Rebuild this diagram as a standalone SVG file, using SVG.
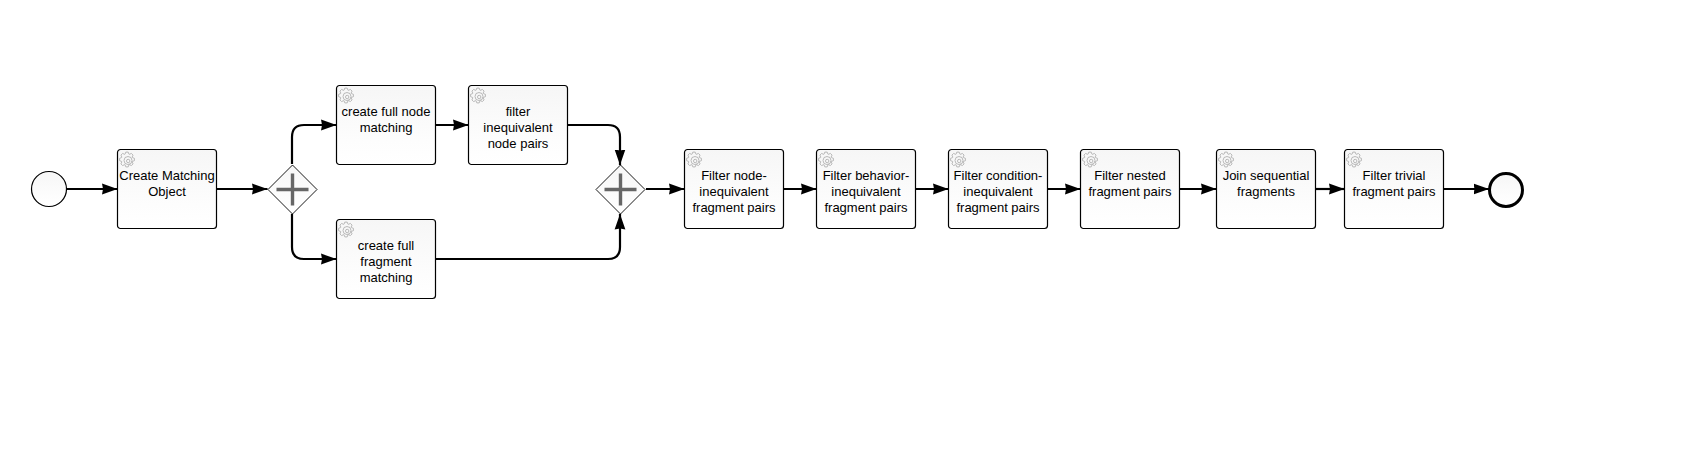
<svg xmlns="http://www.w3.org/2000/svg" width="1697" height="455" viewBox="0 0 1697 455">
<style>
.task{fill:url(#g);stroke:#000;stroke-width:1.2}
.ev{fill:url(#g);stroke:#000;stroke-width:1.2}
.end{fill:url(#g);stroke:#000;stroke-width:3}
.gw{fill:url(#g);stroke:#000;stroke-width:.9}
.plus{fill:none;stroke:#666;stroke-width:3.4}
.flow{fill:none;stroke:#000;stroke-width:2.2;marker-end:url(#arrow)}
text{font-family:"Liberation Sans",Arial,sans-serif;font-size:13px;text-anchor:middle;fill:#000}
.gear{fill:none;stroke:#aaa;stroke-width:.8}
</style>
<defs>
<linearGradient id="g" x1="0" y1="0" x2="0" y2="1"><stop offset="0" stop-color="#f6f6f6"/><stop offset=".7" stop-color="#fdfdfd"/><stop offset="1" stop-color="#fff"/></linearGradient>
<marker id="arrow" markerUnits="userSpaceOnUse" markerWidth="17" markerHeight="14" refX="15.5" refY="7" orient="auto"><path d="M0 1.6L15.5 7L0 12.4L1 7Z" fill="#000"/></marker>
<g id="cog"><path class="gear" d="M5.36-1.95L7.41-1.17V1.17L5.36 1.95L5.17 2.41L6.07 4.41L4.41 6.07L2.41 5.17L1.95 5.36L1.17 7.41H-1.17L-1.95 5.36L-2.41 5.17L-4.41 6.07L-6.07 4.41L-5.17 2.41L-5.36 1.95L-7.41 1.17V-1.17L-5.36-1.95L-5.17-2.41L-6.07-4.41L-4.41-6.07L-2.41-5.17L-1.95-5.36L-1.17-7.41H1.17L1.95-5.36L2.41-5.17L4.41-6.07L6.07-4.41L5.17-2.41Z"/><circle class="gear" cx="1" cy="1" r="4"/><circle class="gear" cx="1.2" cy="1.5" r="1.7"/></g>
<g id="t"><rect class="task" width="99" height="79" rx="3"/><use href="#cog" x="9.5" y="10"/></g>
</defs>
<g id="connectors">
<path class="flow" d="M67 189H117.5"/>
<path class="flow" d="M216.5 189H267.5"/>
<path class="flow" d="M292 164V137Q292 125 304 125H336.5"/>
<path class="flow" d="M292 214V247Q292 259 304 259H336.5"/>
<path class="flow" d="M435.5 125H468.5"/>
<path class="flow" d="M567.5 125H608Q620 125 620 137V165"/>
<path class="flow" d="M435.5 259H608Q620 259 620 247V214"/>
<path class="flow" d="M646 189H684.5"/>
<path class="flow" d="M783.5 189H816.5"/>
<path class="flow" d="M915.5 189H948.5"/>
<path class="flow" d="M1047.5 189H1080.5"/>
<path class="flow" d="M1179.5 189H1216.5"/>
<path class="flow" d="M1315.5 189H1344.5"/>
<path class="flow" d="M1443.5 189H1489"/>
</g>
<g id="start"><circle class="ev" cx="49" cy="189" r="17.5"/></g>
<g id="task-create-matching"><use href="#t" x="117.5" y="149.5"/><text x="167" y="180">Create Matching</text><text x="167" y="196">Object</text></g>
<g id="gateway-split"><path class="gw" d="M292.5 165L317 189.5L292.5 214L268 189.5Z"/><path class="plus" d="M292.5 173.5V205.5M276.5 189.5H308.5"/></g>
<g id="task-full-node"><use href="#t" x="336.5" y="85.5"/><text x="386" y="116">create full node</text><text x="386" y="132">matching</text></g>
<g id="task-full-fragment"><use href="#t" x="336.5" y="219.5"/><text x="386" y="250">create full</text><text x="386" y="266">fragment</text><text x="386" y="282">matching</text></g>
<g id="task-filter-node-pairs"><use href="#t" x="468.5" y="85.5"/><text x="518" y="116">filter</text><text x="518" y="132">inequivalent</text><text x="518" y="148">node pairs</text></g>
<g id="gateway-join"><path class="gw" d="M620.5 165L645 189.5L620.5 214L596 189.5Z"/><path class="plus" d="M620.5 173.5V205.5M604.5 189.5H636.5"/></g>
<g id="task-filter-node"><use href="#t" x="684.5" y="149.5"/><text x="734" y="180">Filter node-</text><text x="734" y="196">inequivalent</text><text x="734" y="212">fragment pairs</text></g>
<g id="task-filter-behavior"><use href="#t" x="816.5" y="149.5"/><text x="866" y="180">Filter behavior-</text><text x="866" y="196">inequivalent</text><text x="866" y="212">fragment pairs</text></g>
<g id="task-filter-condition"><use href="#t" x="948.5" y="149.5"/><text x="998" y="180">Filter condition-</text><text x="998" y="196">inequivalent</text><text x="998" y="212">fragment pairs</text></g>
<g id="task-filter-nested"><use href="#t" x="1080.5" y="149.5"/><text x="1130" y="180">Filter nested</text><text x="1130" y="196">fragment pairs</text></g>
<g id="task-join"><use href="#t" x="1216.5" y="149.5"/><text x="1266" y="180">Join sequential</text><text x="1266" y="196">fragments</text></g>
<g id="task-filter-trivial"><use href="#t" x="1344.5" y="149.5"/><text x="1394" y="180">Filter trivial</text><text x="1394" y="196">fragment pairs</text></g>
<g id="end"><circle class="end" cx="1506" cy="190" r="16.5"/></g>
</svg>
